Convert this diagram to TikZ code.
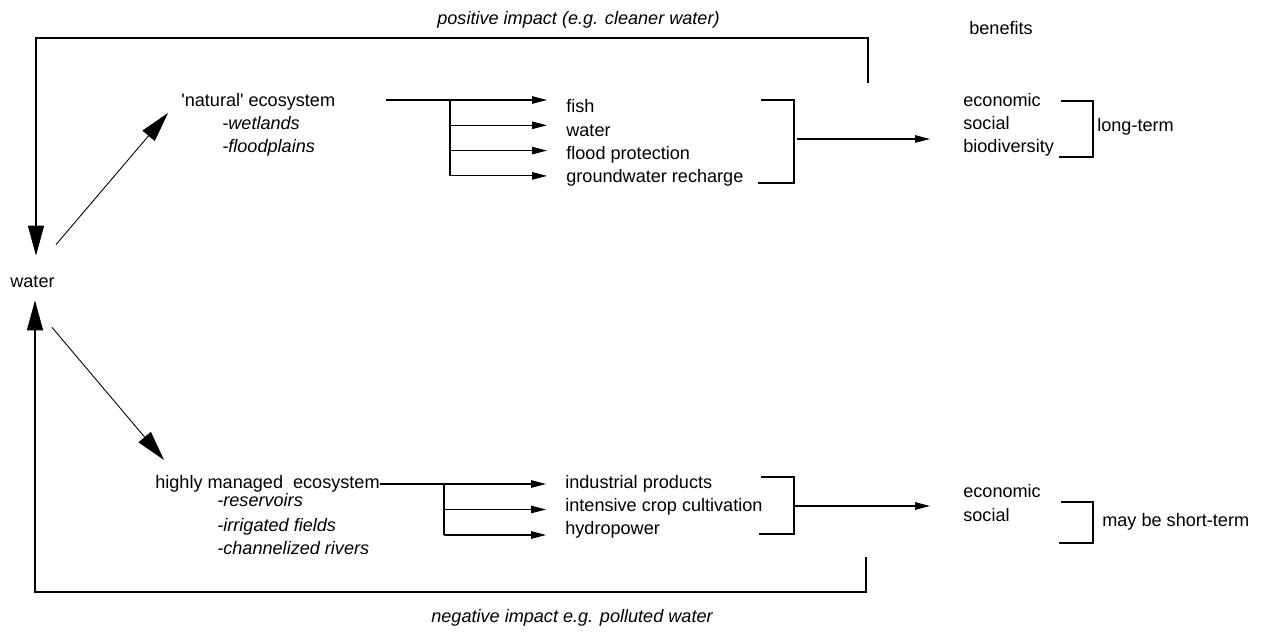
\documentclass[tikz,border=0pt]{standalone}
\usepackage{fontspec}
\setmainfont{Liberation Sans}
\usepackage{tikz}
\usetikzlibrary{arrows.meta}
\tikzset{txt/.style={anchor=base west,inner sep=0pt}}
\tikzset{item/.style={txt,inner xsep=\itemgap}}
\tikzset{sub/.style={txt,font=\fontsize{10.3pt}{13pt}\selectfont\itshape}}
\def\itemgap{0.38cm}
\def\bengap{0.66cm}

\begin{document}
\begin{tikzpicture}[x=0.02cm,y=-0.02cm,font=\fontsize{10.3pt}{13pt}\selectfont]
    \tikzstyle{bigtip}=[-{Triangle[length=0.6cm,width=0.32cm]}]
    \tikzstyle{smalltip}=[-{Triangle[length=0.3cm,width=0.15cm]},line width=0.6pt]
    \tikzstyle{loop}=[bigtip,line width=0.8pt]
    \tikzstyle{ben}=[txt,inner xsep=\bengap]
    \useasboundingbox (0,0) rectangle (1286,634);

    \node[txt,text height=0.64cm,text depth=0.24cm] (water) at (10,288) {water};

    % upper branch
    \node[txt] (nat) at (181,107) {\textquotesingle natural\textquotesingle{} ecosystem};
    \node[sub] (wet) at (222,130) {-wetlands};
    \node[sub] (flo) at (222,153) {-floodplains};
    \draw[bigtip,line width=0.5pt] ([shift={(1,-11)}]water.north east) -- ([shift={(-13,6)}]nat.base west);

    \coordinate (natout) at (386,100);
    \foreach \t [count=\i] in {fish,water,flood protection,groundwater recharge}{%
          \node[item] (up\i) at (547,{113+23.3*(\i-1)}) {\t};
          \coordinate (ub\i) at (450,{100+25.3*(\i-1)});
		}
    \draw[line width=0.6pt] (ub1) -- (ub4);
    \draw[smalltip] (natout) -- (ub1 -| up1.west);
    \foreach \i in {2,3,4}
          \draw[smalltip] (ub\i) -- (ub\i -| up\i.west);

    \draw[line width=0.6pt] (761,100) -| (794,183) -- (758,183);
    \coordinate (ubr) at (797,139);

    \node[ben] (ueco) at (930,107) {economic};
    \node[txt] (usoc) at (963,130) {social};
    \node[txt] (ubio) at (963,153) {biodiversity};
    \draw[smalltip] (ubr) -- (ubr -| ueco.west);
    \draw[line width=0.6pt] (1061,101) -| (1093,157) -- (1059,157);
    \node[txt] (long) at (1097,132) {long-term};

    % lower branch
    \node[txt] (man) at (155,489) {highly managed\ \ ecosystem};
    \node[sub] (res) at (217,507) {-reservoirs};
    \node[sub] (irr) at (217,532) {-irrigated fields};
    \node[sub] (cha) at (217,555) {-channelized rivers};
    \draw[bigtip,line width=0.5pt] ([shift={(-3,27)}]water.south east) -- ([shift={(9,-29)}]man.base west);

    \foreach \t [count=\i] in {industrial products,intensive crop cultivation,hydropower}{%
          \node[item] (lo\i) at (546,{489+23*(\i-1)}) {\t};
          \coordinate (lb\i) at (444,{484+25.5*(\i-1)});
		}
    \draw[line width=0.6pt] (lb1) -- (lb3);
    \draw[smalltip] (man.east |- lb1) -- (lb1 -| lo1.west);
    \foreach \i in {2,3}
          \draw[smalltip] (lb\i) -- (lb\i -| lo\i.west);

    \draw[line width=0.6pt] (761,477) -| (794,534) -- (759,534);
    \coordinate (lbr) at (794,506);

    \node[ben] (leco) at (930,498) {economic};
    \node[txt] (lsoc) at (963,522) {social};
    \draw[smalltip] (lbr) -- (lbr -| leco.west);
    \draw[line width=0.6pt] (1061,502) -| (1093,543) -- (1059,543);
    \node[txt] (short) at (1102,527) {may be short-term};

    % feedback loops
    \coordinate (ptr) at (868,83);
    \coordinate (ptl) at (36,38);
    \draw[loop] (ptr) |- (ptl) -- (ptl |- water.north);
    \coordinate (ntr) at (866,557);
    \coordinate (ntl) at (35,592);
    \draw[loop] (ntr) |- (ntl) -- (ntl |- water.south);

    % Labels
    \node[sub] (pos) at (437,25) {positive impact (e.g. cleaner water)};
    \node[sub] (neg) at (431,623) {negative impact e.g. polluted water};
    \node[txt] (bene) at (969,35) {benefits};
\end{tikzpicture}
\end{document}
